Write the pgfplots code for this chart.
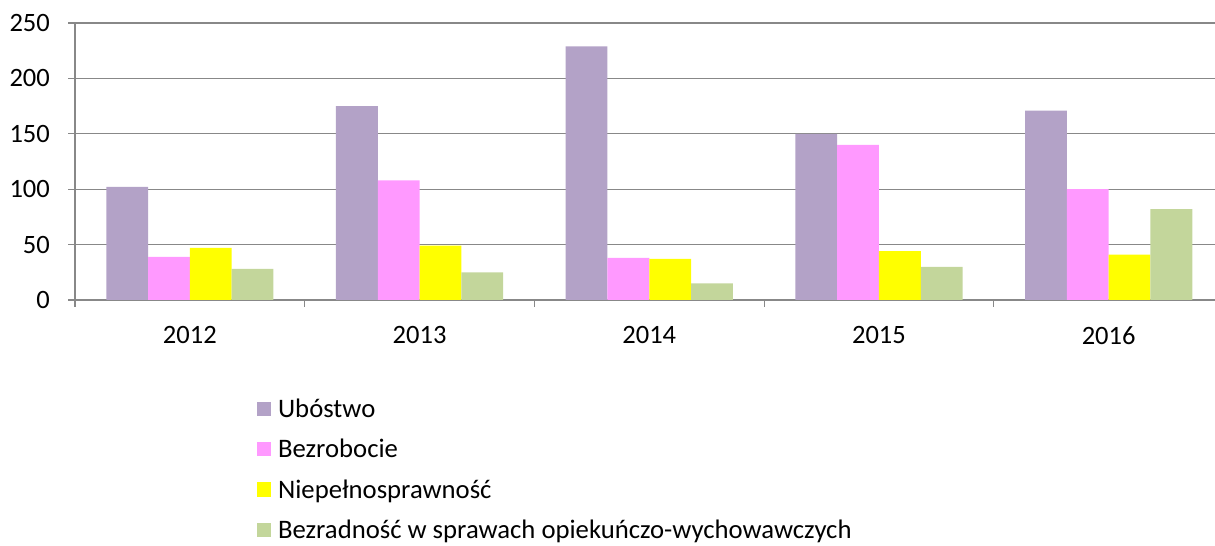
\documentclass[border=0pt]{standalone}
\usepackage{fontspec}
\setmainfont{Carlito}
\usepackage{pgfplots}
\pgfplotsset{compat=1.18}
\definecolor{cPur}{HTML}{B3A2C7}
\definecolor{cPink}{HTML}{FF99FF}
\definecolor{cYel}{HTML}{FFFF00}
\definecolor{cGrn}{HTML}{C3D69B}
\definecolor{cGrid}{HTML}{888888}
\begin{document}
\begin{tikzpicture}[x=1bp,y=1bp]
\useasboundingbox (0,0) rectangle (1215,546);
\begin{axis}[
  at={(75bp,246bp)}, anchor=south west,
  scale only axis, width=1140bp, height=277bp,
  ybar=0pt, bar width=41.8bp,
  xmin=-0.5, xmax=4.463, ymin=0, ymax=250,
  ytick={0,50,...,250},
  xtick={0,1,2,3,4},
  xticklabels={2012,2013,2014,2015,2016},
  xtick style={draw=none},
  extra x ticks={-0.5,0.5,1.5,2.5,3.5},
  extra x tick labels={},
  extra x tick style={xtick style={draw=cGrid, line width=1.2bp}, major tick length=7bp, tick align=outside},
  ytick style={draw=cGrid, line width=1.2bp},
  major tick length=7bp, tick align=outside,
  ymajorgrids, grid style={cGrid, line width=1.2bp},
  axis x line*=bottom, axis y line*=left,
  axis line style={cGrid, line width=1.2bp},
  /pgf/number format/assume math mode=true,
  ticklabel style={font=\fontsize{26.5bp}{31bp}\selectfont, text=black},
  yticklabel style={inner sep=0pt, anchor=east, xshift=-18bp},
  xticklabel style={inner sep=0pt, anchor=north, yshift=-19bp},
  legend style={at={(0.1565,-0.349)}, anchor=north west, draw=none, fill=none,
    font=\fontsize{26.7bp}{31bp}\selectfont, row sep=20.3bp, column sep=7bp,
    nodes={inner sep=0pt}},
  legend cell align=left,
  legend image code/.code={\fill[#1] (0bp,-7.2bp) rectangle (14.5bp,7.2bp);},
]
\addplot[fill=cPur, draw=none] coordinates {(0,102) (1,175) (2,229) (3,150) (4,171)};
\addplot[fill=cPink, draw=none] coordinates {(0,39) (1,108) (2,38) (3,140) (4,100)};
\addplot[fill=cYel, draw=none] coordinates {(0,47) (1,49) (2,37) (3,44) (4,41)};
\addplot[fill=cGrn, draw=none] coordinates {(0,28) (1,25) (2,15) (3,30) (4,82)};
\legend{Ubóstwo, Bezrobocie, Niepełnosprawność, Bezradność w sprawach opiekuńczo-wychowawczych}
\end{axis}
\end{tikzpicture}
\end{document}
